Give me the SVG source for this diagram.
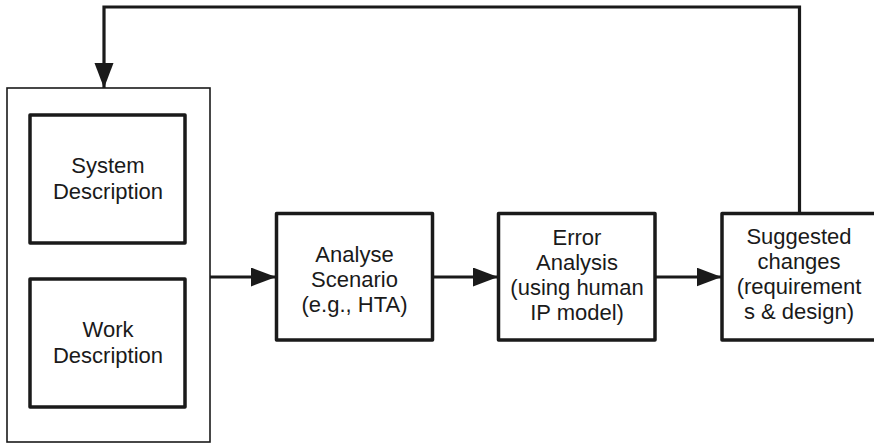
<svg xmlns="http://www.w3.org/2000/svg" width="874" height="445" viewBox="0 0 874 445">
<style>
.box{fill:#fff;stroke:#1a1a1a;stroke-width:3.5;stroke-linejoin:round}
.outer{fill:#fff;stroke:#1a1a1a;stroke-width:1.6}
.t{font-family:"Liberation Sans",Arial,sans-serif;font-size:22px;fill:#1a1a1a;text-anchor:middle}
.c{fill:none;stroke:#1a1a1a;stroke-width:3.2}
</style>
<defs>
<marker id="ah" markerUnits="userSpaceOnUse" markerWidth="25" markerHeight="20" refX="25" refY="9.5" orient="auto">
<path d="M0,0 L25,9.5 L0,19 Z" fill="#1a1a1a"/>
</marker>
</defs>
<g id="container">
<rect class="outer" x="7" y="88" width="203" height="354"/>
</g>
<g id="system">
<rect class="box" x="30" y="115" width="155" height="128"/>
<text class="t" x="108" y="172.5">System</text>
<text class="t" x="108" y="198.5">Description</text>
</g>
<g id="work">
<rect class="box" x="30" y="279" width="155" height="128"/>
<text class="t" x="108" y="336.5">Work</text>
<text class="t" x="108" y="362.5">Description</text>
</g>
<g id="analyse">
<rect class="box" x="276.5" y="213.5" width="156" height="126.5"/>
<text class="t" x="354.5" y="262">Analyse</text>
<text class="t" x="354.5" y="287">Scenario</text>
<text class="t" x="354.5" y="312">(e.g., HTA)</text>
</g>
<g id="error">
<rect class="box" x="498.5" y="213.5" width="156.5" height="126.5"/>
<text class="t" x="577" y="245">Error</text>
<text class="t" x="577" y="270">Analysis</text>
<text class="t" x="577" y="295">(using human</text>
<text class="t" x="577" y="320">IP model)</text>
</g>
<g id="suggested">
<rect class="box" x="722" y="213.5" width="155" height="126.5"/>
<text class="t" x="799" y="244">Suggested</text>
<text class="t" x="799" y="268.5">changes</text>
<text class="t" x="799" y="293.5">(requirement</text>
<text class="t" x="799" y="318.5">s &amp; design)</text>
</g>
<g id="connectors">
<path class="c" d="M210,277 H276" marker-end="url(#ah)"/>
<path class="c" d="M432.5,277 H498" marker-end="url(#ah)"/>
<path class="c" d="M655,277 H721.5" marker-end="url(#ah)"/>
<path class="c" d="M799.5,213.5 V7 H104 V88" marker-end="url(#ah)"/>
</g>
</svg>
